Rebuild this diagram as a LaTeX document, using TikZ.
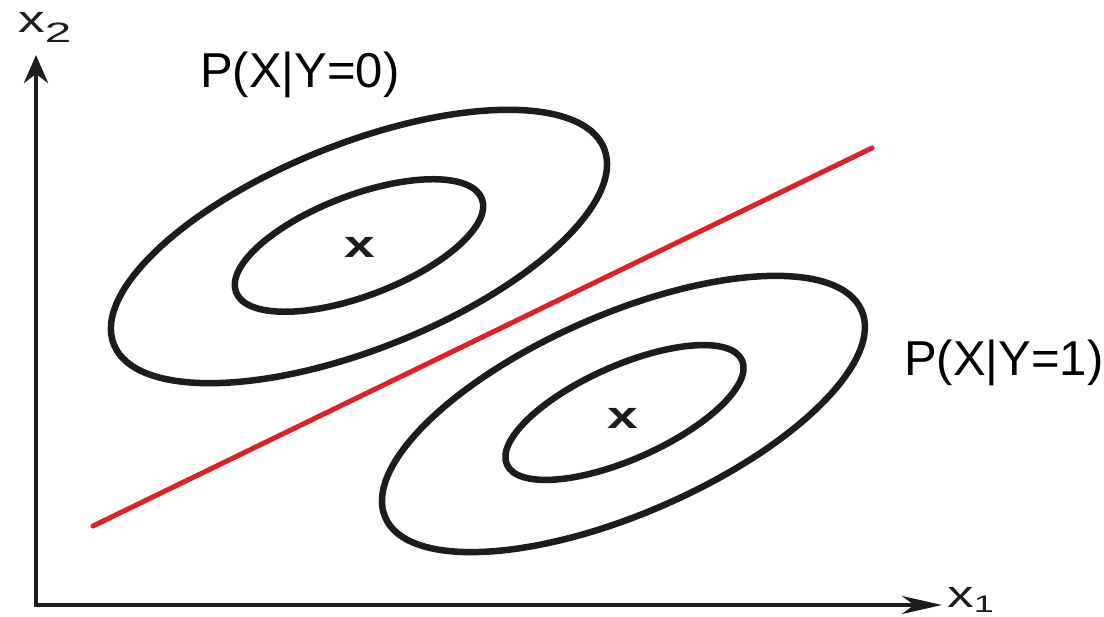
\documentclass[tikz,border=0pt]{standalone}
\usepackage{fontspec}
\setmainfont{Liberation Sans}
\usetikzlibrary{arrows.meta}
\definecolor{boundary}{RGB}{222,32,40}
\definecolor{ink}{RGB}{28,28,28}
\begin{document}
\begin{tikzpicture}[x=1pt,y=-1pt,
  contour/.style={line width=6.5pt, draw=ink},
  axisline/.style={line width=3.8pt, draw=ink, line join=miter},
  decision/.style={line width=5pt, draw=boundary, line cap=round},
  classlabel/.style={anchor=base west, inner sep=0pt, font=\fontsize{49}{49}\selectfont},
  meanmark/.style={inner sep=0pt, text=ink},
  axislabel/.style={anchor=base west, inner sep=0pt, text=ink}]
\useasboundingbox (0,0) rectangle (1104,617);
% axes
\coordinate (O) at (36,605);
\coordinate (ytip) at (36,55);
\coordinate (xtip) at (942,605);
\draw[axisline, {Stealth[length=28pt,width=24pt,inset=9pt]}-{Stealth[length=40pt,width=18pt,inset=12pt]}] (ytip) -- (O) -- (xtip);
\node[axislabel] (x2lbl) at (18,33) {\scalebox{1.4}[1]{\fontsize{38}{38}\selectfont x}\raisebox{-10pt}{\scalebox{1.7}[1]{\fontsize{28}{28}\selectfont 2}}};
\node[axislabel] (x1lbl) at (947,608) {\scalebox{1.4}[1]{\fontsize{38}{38}\selectfont x}\raisebox{-5pt}{\scalebox{1.5}[1]{\fontsize{24}{24}\selectfont 1}}};
% class 0 contours
\coordinate (c0) at (359,246.5);
\coordinate (c0i) at (359,245.5);
\draw[contour, rotate around={21.8:(c0)}] (c0) ellipse (264 and 102.6);
\draw[contour, rotate around={20.8:(c0i)}] (c0i) ellipse (131.5 and 50.3);
\node[meanmark] (m0) at (360,247.5) {\scalebox{1.45}[1]{\fontsize{38}{38}\selectfont\bfseries x}};
% class 1 contours
\coordinate (c1) at (623.5,414);
\coordinate (c1i) at (624.5,412.5);
\draw[contour, rotate around={23.5:(c1)}] (c1) ellipse (259.7 and 99.7);
\draw[contour, rotate around={23.9:(c1i)}] (c1i) ellipse (128.6 and 46.8);
\node[meanmark] (m1) at (622.5,418) {\scalebox{1.45}[1]{\fontsize{38}{38}\selectfont\bfseries x}};
% decision boundary
\coordinate (ra) at (93,526);
\coordinate (rb) at (872,148);
\draw[decision] (ra) -- (rb);
% labels
\node[classlabel] (p0) at (200,88) {P(X|Y=0)};
\node[classlabel] (p1) at (904,376) {P(X|Y=1)};
\end{tikzpicture}
\end{document}
